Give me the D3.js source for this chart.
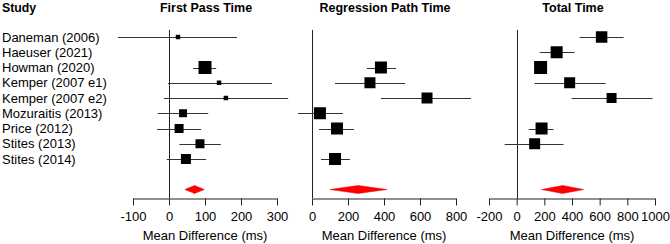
<!DOCTYPE html>
<html><head><meta charset="utf-8">
<script src="https://cdn.jsdelivr.net/npm/d3@7"></script>
<style>body{margin:0;background:#fff}svg{display:block}text{font-family:"Liberation Sans",Arial,sans-serif}</style>
</head><body><svg id="c" width="670" height="244"></svg>
<script>
const studies = ["Daneman (2006)","Haeuser (2021)","Howman (2020)","Kemper (2007 e1)","Kemper (2007 e2)","Mozuraitis (2013)","Price (2012)","Stites (2013)","Stites (2014)"];
// First Pass Time
const fptEst = [25, null, 100, 139, 158, 39, 28, 86, 47];
const fptLo  = [-142, null, 67, -3, -14, -31, -33, 29, -6];
const fptHi  = [189, null, 131, 286, 331, 109, 89, 144, 103];
const fptW   = [3.6, null, 30.5, 3.6, 3.6, 11.5, 14.6, 14.6, 18];
const fptSum = [44, 71, 98];
const fptTicks = [-100, 0, 100, 200, 300];
// Regression Path Time
const rptEst = [null, null, 383, 322, 639, 44, 139, null, 128];
const rptLo  = [null, null, 305, 128, 383, -78, 39, null, 50];
const rptHi  = [null, null, 467, 517, 883, 172, 233, null, 211];
const rptW   = [null, null, 17.6, 14.8, 14.8, 17.6, 17.6, null, 17.6];
const rptSum = [100, 256, 417];
const rptTicks = [0, 200, 400, 600, 800];
// Total Time
const ttEst = [614, 289, 173, 383, 686, null, 180, 130, null];
const ttLo  = [455, 166, 135, 130, 397, null, 87, -87, null];
const ttHi  = [773, 419, 215, 643, 982, null, 267, 339, null];
const ttW   = [14.2, 15.5, 18.2, 13, 10.7, null, 15.5, 13, null];
const ttSum = [180, 332, 484];
const ttTicks = [-200, 0, 200, 400, 600, 800, 1000];

const titles = ["First Pass Time","Regression Path Time","Total Time"];
const svg = d3.select("#c");
const y = d3.scaleLinear().domain([0, 10]).range([37, 189.5]);
const axisY = 198;

svg.append("text").attr("x", 2).attr("y", 12).attr("font-size", 12.3).attr("font-weight", "bold").text("Study");
svg.selectAll("text.study").data(studies).join("text").attr("class","study")
  .attr("x", 2).attr("y", (d,i) => y(i) + 4.6).attr("font-size", 13).attr("fill","#000").text(d => d);

const panels = [
  {est: fptEst, lo: fptLo, hi: fptHi, w: fptW, sum: fptSum, ticks: fptTicks, range: [133, 277], maxSide: 13},
  {est: rptEst, lo: rptLo, hi: rptHi, w: rptW, sum: rptSum, ticks: rptTicks, range: [312, 456], maxSide: 12},
  {est: ttEst, lo: ttLo, hi: ttHi, w: ttW, sum: ttSum, ticks: ttTicks, range: [489, 655], maxSide: 13}
];

panels.forEach((p, k) => {
  const x = d3.scaleLinear().domain(d3.extent(p.ticks)).range(p.range);
  const s = d3.scaleSqrt().domain([0, d3.max(p.w)]).range([0, p.maxSide]);
  const g = svg.append("g");
  g.append("text").attr("x", (p.range[0]+p.range[1])/2 + 1).attr("y", 12).attr("text-anchor","middle")
    .attr("font-size", 12.5).attr("font-weight","bold").text(titles[k]);
  // zero line
  g.append("line").attr("x1", Math.round(x(0))+0.5).attr("x2", Math.round(x(0))+0.5)
    .attr("y1", 30).attr("y2", axisY).attr("stroke","#222").attr("stroke-width",1);
  const rows = p.est.map((e,i) => ({e, lo: p.lo[i], hi: p.hi[i], w: p.w[i], i})).filter(d => d.e != null);
  g.selectAll("line.ci").data(rows).join("line").attr("class","ci")
    .attr("x1", d => x(d.lo)).attr("x2", d => x(d.hi))
    .attr("y1", d => Math.round(y(d.i))+0.5).attr("y2", d => Math.round(y(d.i))+0.5)
    .attr("stroke","#333").attr("stroke-width",1);
  g.selectAll("rect.pt").data(rows).join("rect").attr("class","pt")
    .attr("x", d => x(d.e) - s(d.w)/2).attr("y", d => y(d.i) - s(d.w)/2)
    .attr("width", d => s(d.w)).attr("height", d => s(d.w)).attr("fill","#000");
  // summary diamond
  const yc = y(10), h = 4;
  g.append("path").attr("d", `M${x(p.sum[0])},${yc}L${x(p.sum[1])},${yc-h}L${x(p.sum[2])},${yc}L${x(p.sum[1])},${yc+h}Z`)
    .attr("fill","#ff0000").attr("stroke","#e00000").attr("stroke-width",0.5);
  // axis
  const ax = g.append("g").attr("transform", `translate(0,${axisY+0.5})`)
    .call(d3.axisBottom(x).tickValues(p.ticks).tickFormat(d => String(d)).tickSize(7).tickSizeOuter(0).tickPadding(6));
  ax.select(".domain").attr("stroke","#222");
  ax.selectAll(".tick line").attr("stroke","#222");
  ax.selectAll(".tick text").attr("font-size", 13).attr("fill","#000")
    .attr("font-family",'"Liberation Sans",Arial,sans-serif');
  g.append("text").attr("x", (p.range[0]+p.range[1])/2).attr("y", 240).attr("text-anchor","middle")
    .attr("font-size", 13).text("Mean Difference (ms)");
});
</script></body></html>
